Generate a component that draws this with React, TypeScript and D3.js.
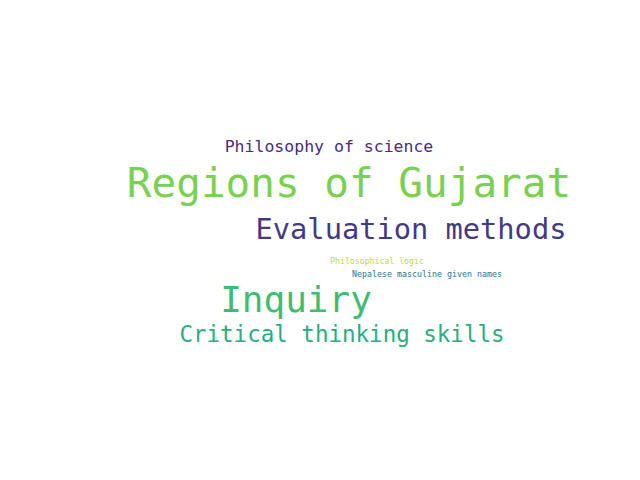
import React from 'react';
import * as d3 from 'd3';

const words = ['Philosophy of science', 'Regions of Gujarat', 'Evaluation methods', 'Philosophical logic', 'Nepalese masculine given names', 'Inquiry', 'Critical thinking skills'];
const weights = [16.5, 41, 28.7, 8.2, 8.3, 36, 22.5];
const colors = ['#472d7b', '#7ad151', '#443983', '#bddf26', '#2c728e', '#3fbc73', '#28ae80'];
// word centres from the cloud layout
const centerX = [329, 349, 411, 377, 427, 296, 342];
const centerY = [146, 183, 229, 261, 274, 299, 334];

const App: React.FC = () => {
  const width = 640;
  const height = 480;
  const size = d3.scaleLinear().domain([0, 41]).range([0, 41]);

  return (
    <svg width={width} height={height} style={{ position: 'absolute', top: 0, left: 0, background: '#fff' }}>
      {words.map((w, i) => (
        <text
          key={w}
          x={centerX[i]}
          y={centerY[i]}
          textAnchor="middle"
          dominantBaseline="central"
          fontFamily="DejaVu Sans Mono"
          fontSize={size(weights[i])}
          fill={colors[i]}
        >
          {w}
        </text>
      ))}
    </svg>
  );
};

export default App;
